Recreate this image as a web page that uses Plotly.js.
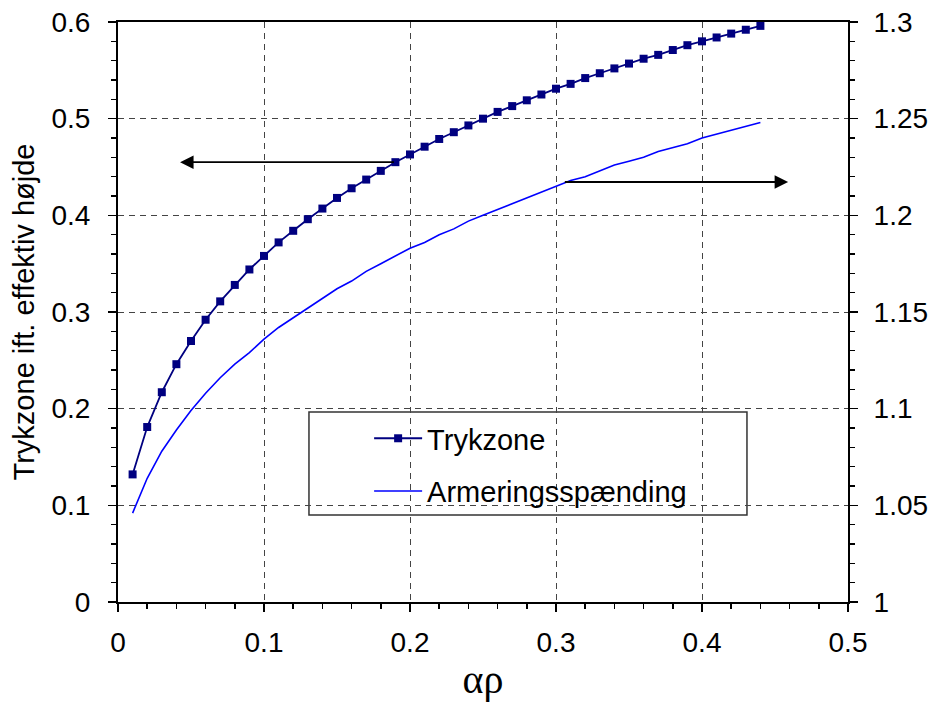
<!DOCTYPE html>
<html>
<head>
<meta charset="utf-8">
<script src="https://cdn.plot.ly/plotly-3.0.1.min.js"></script>
<style>html,body{margin:0;padding:0;background:#fff;}#chart{width:930px;height:702px;}</style>
</head>
<body>
<div id="chart"></div>
<script>
// Data
const alphaRho = [0.01,0.02,0.03,0.04,0.05,0.06,0.07,0.08,0.09,0.10,
  0.11,0.12,0.13,0.14,0.15,0.16,0.17,0.18,0.19,0.20,
  0.21,0.22,0.23,0.24,0.25,0.26,0.27,0.28,0.29,0.30,
  0.31,0.32,0.33,0.34,0.35,0.36,0.37,0.38,0.39,0.40,
  0.41,0.42,0.43,0.44];
const trykzone = [0.132,0.181,0.217,0.246,0.270,0.292,0.311,0.328,0.344,0.358,
  0.372,0.384,0.396,0.407,0.418,0.428,0.437,0.446,0.455,0.463,
  0.471,0.479,0.486,0.493,0.500,0.507,0.513,0.519,0.525,0.531,
  0.536,0.542,0.547,0.552,0.557,0.562,0.566,0.571,0.576,0.580,
  0.584,0.588,0.592,0.596];
const armering = [1.046,1.064,1.078,1.089,1.099,1.108,1.116,1.123,1.129,1.136,
  1.142,1.147,1.152,1.157,1.162,1.166,1.171,1.175,1.179,1.183,
  1.186,1.190,1.193,1.197,1.200,1.203,1.206,1.209,1.212,1.215,
  1.218,1.220,1.223,1.226,1.228,1.230,1.233,1.235,1.237,1.240,
  1.242,1.244,1.246,1.248];
const seriesNames = ["Trykzone","Armeringsspænding"];
const xTitle = "αρ";
const yTitle = "Trykzone ift. effektiv højde";

const font = "Liberation Sans, Arial, sans-serif";
const traces = [
  {x: alphaRho, y: trykzone, name: seriesNames[0], type: "scatter", mode: "lines+markers",
   line: {color: "#000080", width: 1.8}, marker: {symbol: "square", size: 8, color: "#000080"},
   legendgroup: "a", yaxis: "y"},
  {x: alphaRho, y: armering, name: seriesNames[1], type: "scatter", mode: "lines",
   line: {color: "#0000FF", width: 1.6}, legendgroup: "b", yaxis: "y2"}
];
const layout = {
  width: 930, height: 702,
  margin: {l: 118, r: 82, t: 22, b: 100},
  paper_bgcolor: "#fff", plot_bgcolor: "#fff",
  font: {family: font, size: 28, color: "#000"},
  showlegend: true,
  legend: {x: 0.344, y: 0.326, xanchor: "left", yanchor: "top", bgcolor: "rgba(0,0,0,0)",
    borderwidth: 0, font: {size: 29}, traceorder: "grouped", tracegroupgap: 12, itemwidth: 48},
  xaxis: {range: [0, 0.5], dtick: 0.1, tick0: 0, showline: true, linecolor: "#000", linewidth: 2,
    mirror: true, ticks: "outside", ticklen: 8, tickwidth: 1.5, tickcolor: "#000",
    ticklabelstandoff: 6,
    showgrid: true, gridcolor: "#444", gridwidth: 1, griddash: "6px,5px", zeroline: false,
    minor: {dtick: 0.02, ticks: "outside", ticklen: 5, tickwidth: 1.5, tickcolor: "#000", showgrid: false},
    title: {text: xTitle, font: {family: "Liberation Serif, serif", size: 40}, standoff: 8}},
  yaxis: {range: [0, 0.6], dtick: 0.1, tick0: 0, showline: true, linecolor: "#000", linewidth: 2,
    ticks: "outside", ticklen: 8, tickwidth: 1.5, tickcolor: "#000", ticklabelstandoff: 12,
    showgrid: true, gridcolor: "#444", gridwidth: 1, griddash: "6px,5px", zeroline: false,
    minor: {dtick: 0.02, ticks: "outside", ticklen: 5, tickwidth: 1.5, tickcolor: "#000", showgrid: false},
    title: {text: yTitle, font: {size: 29}, standoff: 8}},
  yaxis2: {range: [1, 1.3], dtick: 0.05, tick0: 1, overlaying: "y", side: "right",
    showline: true, linecolor: "#000", linewidth: 2,
    ticks: "outside", ticklen: 8, tickwidth: 1.5, tickcolor: "#000", ticklabelstandoff: 10,
    showgrid: false, zeroline: false,
    minor: {dtick: 0.01, ticks: "outside", ticklen: 5, tickwidth: 1.5, tickcolor: "#000", showgrid: false}},
  shapes: [
    {type: "rect", xref: "paper", yref: "paper", x0: 0.2616, x1: 0.8616, y0: 0.1500, y1: 0.3276,
     line: {color: "#333", width: 1.5}, fillcolor: "#fff", layer: "below"}
  ],
  annotations: [
    {x: 0.0425, y: 0.455, ax: 0.19, ay: 0.455, xref: "x", yref: "y", axref: "x", ayref: "y",
     showarrow: true, arrowhead: 2, arrowsize: 1.5, arrowwidth: 1.8, arrowcolor: "#000", text: ""},
    {x: 0.459, y: 0.4345, ax: 0.305, ay: 0.4345, xref: "x", yref: "y", axref: "x", ayref: "y",
     showarrow: true, arrowhead: 2, arrowsize: 1.5, arrowwidth: 1.8, arrowcolor: "#000", text: ""}
  ]
};
Plotly.newPlot("chart", traces, layout, {displayModeBar: false, staticPlot: true});
</script>
</body>
</html>
